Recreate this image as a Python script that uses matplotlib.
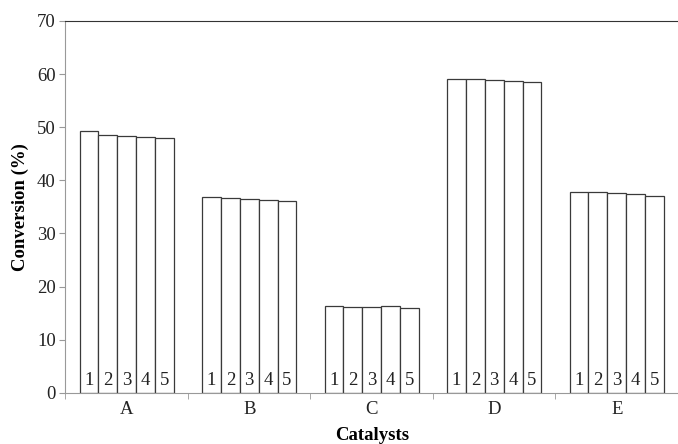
import numpy as np
import matplotlib.pyplot as plt

plt.rcParams['font.family'] = ['Liberation Serif', 'DejaVu Serif']

# data
catalysts = ['A', 'B', 'C', 'D', 'E']
runs = ['1', '2', '3', '4', '5']
conv_A = [49.2, 48.6, 48.4, 48.2, 48.0]
conv_B = [36.9, 36.6, 36.4, 36.3, 36.2]
conv_C = [16.4, 16.2, 16.1, 16.3, 16.0]
conv_D = [59.1, 59.1, 58.9, 58.7, 58.5]
conv_E = [37.8, 37.8, 37.6, 37.4, 37.1]
values = [conv_A, conv_B, conv_C, conv_D, conv_E]

fig = plt.figure(figsize=(6.78, 4.44), dpi=100)
ax = fig.add_axes([0.0966, 0.115, 0.9034, 0.838])

w = 0.154
x = np.arange(len(catalysts))
for i, vals in enumerate(values):
    for j, v in enumerate(vals):
        xc = x[i] + (j - 2) * w
        ax.bar(xc, v, width=w, color='white', edgecolor='#3a3a3a', lw=0.9)
        ax.text(xc, 1.5, runs[j], ha='center', va='baseline', fontsize=13.5, color='#222222')

ax.set_xlim(-0.5, 4.5)
ax.set_ylim(0, 70)
ax.set_yticks(range(0, 71, 10))
ax.set_xticks(x)
ax.set_xticklabels(catalysts)
ax.set_xticks(np.arange(-0.5, 4.6, 1), minor=True)
ax.tick_params(axis='x', which='major', length=0, labelsize=13.5, pad=6)
ax.tick_params(axis='x', which='minor', length=4, color='#999999')
ax.tick_params(axis='y', length=4, color='#999999', labelsize=13.5, pad=3)
ax.tick_params(axis='both', labelcolor='#222222')

for s in ['left', 'bottom']:
    ax.spines[s].set_color('#999999')
ax.spines['top'].set_color('#333333')
ax.spines['right'].set_visible(False)

ax.set_xlabel('Catalysts', fontweight='bold', fontsize=13.5, labelpad=6)
ax.set_ylabel('Conversion (%)', fontweight='bold', fontsize=13.5, labelpad=6)

fig.savefig('out.png', dpi=100)
